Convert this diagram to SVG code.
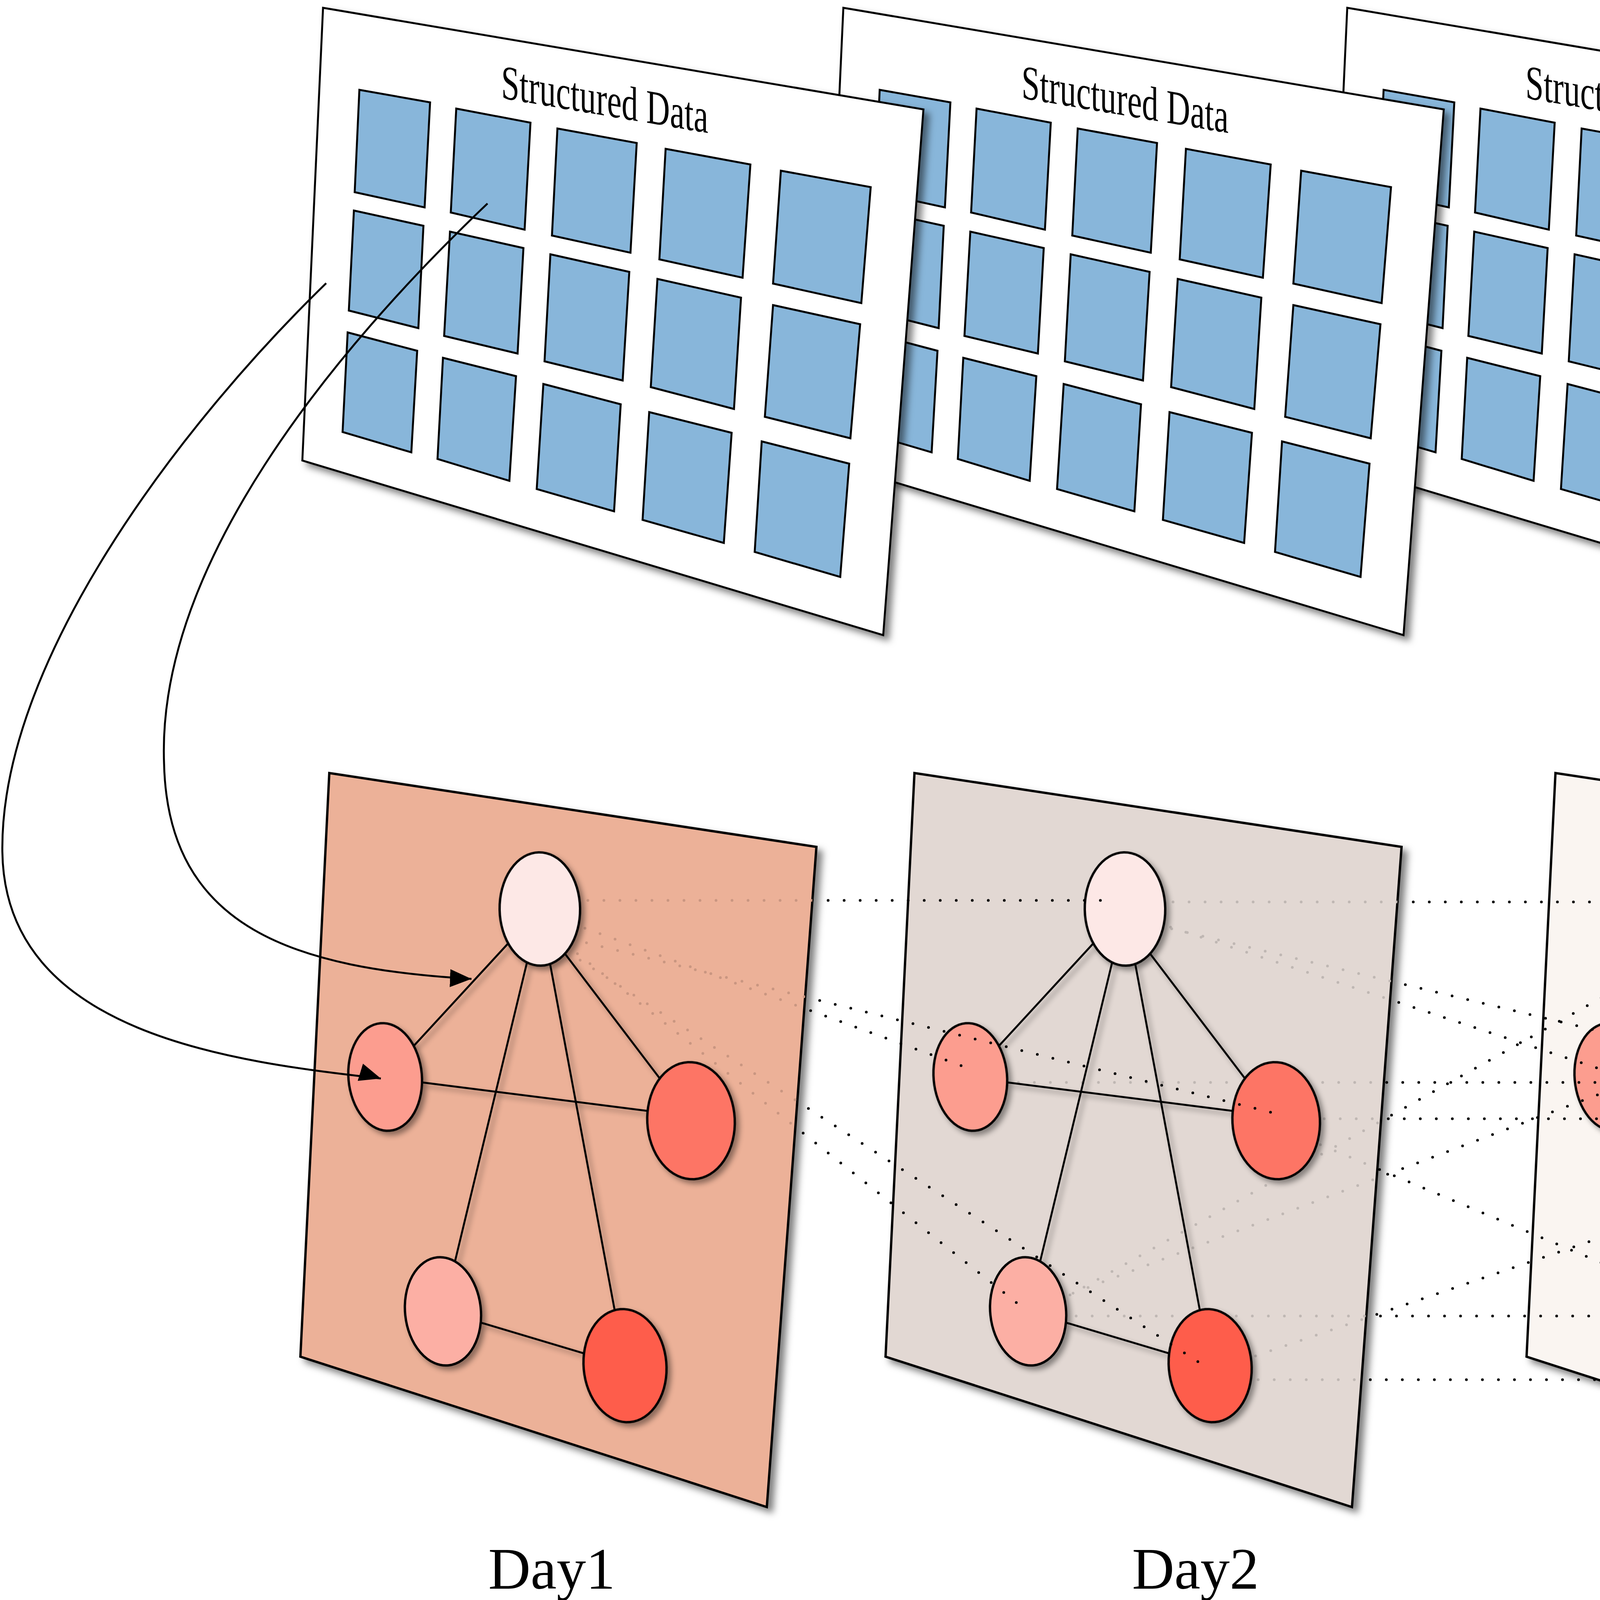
<svg xmlns="http://www.w3.org/2000/svg" xmlns:xlink="http://www.w3.org/1999/xlink" width="7669" height="4175" viewBox="0 0 7669 4175">
<defs>
<style>
.sdp{fill:#fff;stroke:#000;stroke-width:5;stroke-linejoin:miter}
.sq{fill:#88B6DA;stroke:#000;stroke-width:5;stroke-linejoin:miter}
.sdt{font-family:"Liberation Serif","Times New Roman",serif;font-size:124px;fill:#000}
.dp{stroke:#000;stroke-width:6;stroke-linejoin:miter}
.d1{fill:#ECB198}.d2{fill:#E2D8D3}.d3{fill:#FAF5F1}.dn{fill:#FFFFFF}
.edge{stroke:#000;stroke-width:5;fill:none}
.node{stroke:#000;stroke-width:6}
.nT{fill:#FDE8E6}.nL{fill:#FC9D8F}.nR{fill:#FD7465}.nBL{fill:#FCAFA4}.nBR{fill:#FE5D4B}
.dots{fill:none;stroke:#000;stroke-width:7;stroke-linecap:round;stroke-dasharray:0 41}
.fade1{fill:none;stroke:#C99681;stroke-width:7;stroke-linecap:round;stroke-dasharray:0 41}
.fade2{fill:none;stroke:#BFB7B3;stroke-width:7;stroke-linecap:round;stroke-dasharray:0 41}
.curve{fill:none;stroke:#000;stroke-width:5}
.lbl{font-family:"Liberation Serif","Times New Roman",serif;font-size:150px;fill:#000}
</style>
<filter id="pshadow" x="-10%" y="-10%" width="130%" height="130%">
<feDropShadow dx="13" dy="12" stdDeviation="9" flood-color="#000" flood-opacity="0.5"/>
</filter>
<filter id="nshadow" x="-10%" y="-10%" width="130%" height="130%">
<feDropShadow dx="9" dy="9" stdDeviation="7" flood-color="#000" flood-opacity="0.4"/>
</filter>
<marker id="arrowA" markerUnits="userSpaceOnUse" markerWidth="60" markerHeight="50" refX="55" refY="23" orient="17">
<path d="M0,0 L55,23 L0,46 Z" fill="#000"/>
</marker>
<marker id="arrowB" markerUnits="userSpaceOnUse" markerWidth="60" markerHeight="50" refX="55" refY="23" orient="2">
<path d="M0,0 L55,23 L0,46 Z" fill="#000"/>
</marker>
<g id="sdpanel">
<polygon class="sdp" filter="url(#pshadow)" points="827,20 2364,280 2261,1626 774,1179"/>
<g class="sq">
<polygon points="920,230 1101,262 1087,531 908,492"/>
<polygon points="1168,278 1358,314 1343,588 1154,544"/>
<polygon points="1427,329 1630,366 1614,647 1413,603"/>
<polygon points="1704,381 1921,421 1901,711 1688,664"/>
<polygon points="1999,437 2229,479 2205,776 1979,726"/>
<polygon points="906,539 1084,578 1071,840 893,795"/>
<polygon points="1152,593 1340,635 1325,905 1137,860"/>
<polygon points="1409,651 1611,696 1594,974 1394,925"/>
<polygon points="1683,714 1897,762 1879,1047 1666,991"/>
<polygon points="1979,781 2202,830 2177,1122 1958,1067"/>
<polygon points="890,851 1068,898 1053,1158 877,1106"/>
<polygon points="1134,916 1321,963 1304,1231 1120,1175"/>
<polygon points="1391,983 1589,1035 1572,1309 1374,1252"/>
<polygon points="1662,1055 1873,1108 1853,1390 1645,1331"/>
<polygon points="1950,1130 2174,1187 2151,1477 1932,1413"/>
</g>
</g>
<polygon id="daypoly" class="dp" points="843,1979 2090,2168 1963,3858 769,3473"/>
<g id="graph" filter="url(#nshadow)">
<g class="edge">
<line x1="1382" y1="2327" x2="986" y2="2757"/>
<line x1="1382" y1="2327" x2="1134" y2="3357"/>
<line x1="1382" y1="2327" x2="1600" y2="3496"/>
<line x1="1382" y1="2357" x2="1769" y2="2866"/>
<line x1="986" y1="2759" x2="1769" y2="2858"/>
<line x1="1134" y1="3357" x2="1600" y2="3496"/>
</g>
<g class="node">
<ellipse class="nT" cx="1382" cy="2327" rx="103" ry="145" transform="rotate(-1 1382 2327)"/>
<ellipse class="nL" cx="986" cy="2757" rx="94" ry="138" transform="rotate(-5 986 2757)"/>
<ellipse class="nR" cx="1769" cy="2869" rx="112" ry="150" transform="rotate(-3 1769 2869)"/>
<ellipse class="nBL" cx="1134" cy="3357" rx="97" ry="139" transform="rotate(-6 1134 3357)"/>
<ellipse class="nBR" cx="1600" cy="3496" rx="106" ry="145" transform="rotate(-5 1600 3496)"/>
</g>
</g>
<clipPath id="clipD1"><polygon points="843,1979 2090,2168 1963,3858 769,3473"/></clipPath>
<clipPath id="clipD2"><polygon points="843,1979 2090,2168 1963,3858 769,3473" transform="translate(1498,0)"/></clipPath>
</defs>

<rect x="0" y="0" width="7669" height="4175" fill="#fff"/>

<g id="sd-n">
<use href="#sdpanel" x="5253"/>
<text class="sdt" transform="translate(6536,247) skewY(9.6)" textLength="530" lengthAdjust="spacingAndGlyphs">Structured Data</text>
</g>
<g id="sd-3">
<use href="#sdpanel" x="2622"/>
<text class="sdt" transform="translate(3905,251) skewY(9.6)" textLength="530" lengthAdjust="spacingAndGlyphs">Structured Data</text>
</g>
<g id="sd-2">
<use href="#sdpanel" x="1332"/>
<text class="sdt" transform="translate(2615,251) skewY(9.6)" textLength="530" lengthAdjust="spacingAndGlyphs">Structured Data</text>
</g>
<g id="sd-1">
<use href="#sdpanel"/>
<text class="sdt" transform="translate(1283,251) skewY(9.6)" textLength="530" lengthAdjust="spacingAndGlyphs">Structured Data</text>
</g>

<text class="lbl" x="5366" y="769">……</text>
<text class="lbl" x="5366" y="3007">……</text>

<g id="day-n">
<use href="#daypoly" x="5101" class="dn" filter="url(#pshadow)"/>
<use href="#graph" x="5101"/>
</g>
<g id="day3">
<use href="#daypoly" x="3139" class="d3" filter="url(#pshadow)"/>
<use href="#graph" x="3139"/>
</g>

<g id="connectors-23" class="dots">
<g id="l23">
<line x1="2880" y1="2309" x2="4529" y2="2309"/>
<line x1="2880" y1="2349" x2="4902" y2="2833"/>
<line x1="2880" y1="2335" x2="4125" y2="2746"/>
<line x1="2484" y1="2771" x2="4134" y2="2771"/>
<line x1="2632" y1="3375" x2="4529" y2="2314"/>
<line x1="3267" y1="2864" x2="4902" y2="2864"/>
<line x1="2632" y1="3354" x2="4134" y2="2786"/>
<line x1="3267" y1="2883" x2="4739" y2="3501"/>
<line x1="3098" y1="3511" x2="4902" y2="2893"/>
<line x1="2632" y1="3369" x2="4246" y2="3369"/>
<line x1="3098" y1="3532" x2="4700" y2="3532"/>
</g>
</g>

<g id="day2">
<use href="#daypoly" x="1498" class="d2" filter="url(#pshadow)"/>
<use href="#l23" class="fade2" clip-path="url(#clipD2)"/>
<use href="#graph" x="1498"/>
</g>

<g id="connectors-12" class="dots">
<g id="l12">
<line x1="1382" y1="2305" x2="2826" y2="2305"/>
<line x1="1382" y1="2334" x2="2466" y2="2730"/>
<line x1="1382" y1="2384" x2="3256" y2="2848"/>
<line x1="1382" y1="2365" x2="2605" y2="3337"/>
<line x1="1382" y1="2391" x2="3076" y2="3492"/>
</g>
</g>

<g id="day1">
<use href="#daypoly" class="d1" filter="url(#pshadow)"/>
<use href="#l12" class="fade1" clip-path="url(#clipD1)"/>
<use href="#graph"/>
</g>

<g id="connectors-curves" class="curve">
<path d="M835,725 C450,1100 0,1700 6,2180 C12,2650 600,2718 975,2761" marker-end="url(#arrowA)"/>
<path d="M1248,521 C850,900 400,1450 420,1955 C430,2380 760,2480 1207,2506" marker-end="url(#arrowB)"/>
</g>

<g id="labels">
<text class="lbl" x="1250" y="4067">Day1</text>
<text class="lbl" x="2898" y="4067">Day2</text>
<text class="lbl" x="4539" y="4060">Day3</text>
<text class="lbl" x="6394" y="4060">Day_n</text>
</g>
</svg>
